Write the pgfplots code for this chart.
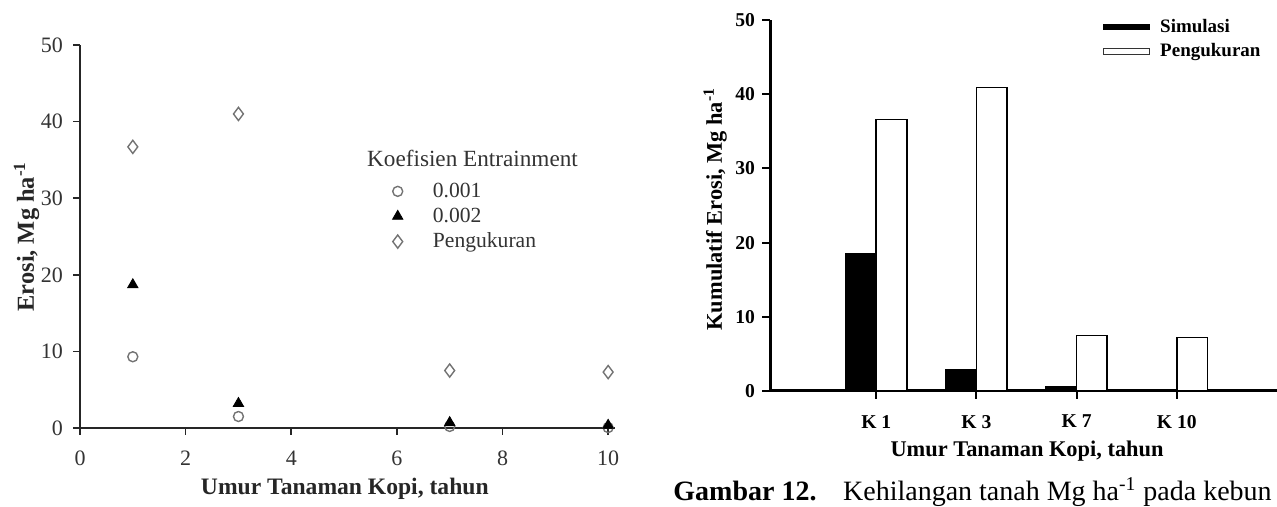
\documentclass[border=0pt]{standalone}
\usepackage{pgfplots}
\pgfplotsset{compat=1.18}
\usepackage{fontspec}
\setmainfont{Liberation Serif}
\begin{document}
\begin{tikzpicture}
\useasboundingbox (0,0) rectangle (638.5pt,253.5pt);
\clip (0,0) rectangle (638.5pt,253.5pt);
% ---------------- left scatter chart ----------------
\begin{axis}[
  at={(40pt,39.5pt)}, anchor=south west,
  scale only axis, width=267.5pt, height=191.5pt,
  xmin=0, xmax=10.13, ymin=0, ymax=50,
  axis x line*=bottom, axis y line*=left,
  axis line style={line width=1pt, black!85},
  xtick={0,2,...,10}, ytick={0,10,...,50},
  tick align=outside,
  major tick length=3.5pt,
  tick style={line width=0.8pt, black!85},
  /pgf/number format/assume math mode=true,
  ticklabel style={font=\fontsize{11}{13}\selectfont, text=black!80},
  xticklabel style={yshift=-4.5pt},
  yticklabel style={xshift=-1.5pt},
  clip=false,
  xlabel={\textbf{Umur Tanaman Kopi, tahun}},
  ylabel={\textbf{Erosi, Mg ha\textsuperscript{-1}}},
  label style={text=black!85},
  xlabel style={font=\fontsize{11.8}{13}\selectfont, at={(axis description cs:0.495,-0.16)}, anchor=center},
  ylabel style={font=\fontsize{12.2}{14}\selectfont, at={(axis description cs:-0.1,0.5)}, anchor=center},
  legend style={at={(axis cs:5.91,32.6)}, anchor=north west, draw=none, fill=none,
    font=\fontsize{10.8}{12}\selectfont, text=black!80, column sep=13pt, row sep=-0.2pt,
    inner sep=0pt},
  legend cell align=left,
]
\addplot[only marks, mark=o, mark size=2.5pt, mark options={draw=black!55, line width=0.7pt}]
  coordinates {(1,9.3) (3,1.5) (7,0.2) (10,0.05)};
\addlegendentry{0.001}
\addplot[only marks, mark=triangle*, mark size=3pt, mark options={fill=black, draw=black}]
  coordinates {(1,18.7) (3,3.2) (7,0.7) (10,0.35)};
\addlegendentry{0.002}
\addplot[only marks, mark=diamond, mark size=3.3pt, mark options={draw=black!55, line width=0.7pt}]
  coordinates {(1,36.7) (3,41.0) (7,7.5) (10,7.3)};
\addlegendentry{Pengukuran}
\node[anchor=west, font=\fontsize{11.6}{13}\selectfont, text=black!80, inner sep=0pt]
  at (axis cs:5.43,35.25) {Koefisien Entrainment};
\end{axis}
% ---------------- right bar chart ----------------
\begin{axis}[
  at={(385pt,58pt)}, anchor=south west,
  scale only axis, width=253.5pt, height=185.5pt,
  xmin=-0.06, xmax=5.0, ymin=0, ymax=50,
  axis x line*=bottom, axis y line*=left,
  axis line style={line width=1.5pt, black},
  xtick={1,2,3,4}, xticklabels={K 1,K 3,K 7,K 10},
  ytick={0,10,...,50},
  tick align=outside,
  major tick length=4pt,
  tick style={line width=1pt, black},
  /pgf/number format/assume math mode=true,
  ticklabel style={font=\fontsize{9.8}{11}\selectfont\bfseries},
  xticklabel style={yshift=-4.5pt},
  xlabel={\textbf{Umur Tanaman Kopi, tahun}},
  ylabel={\textbf{Kumulatif Erosi, Mg ha\textsuperscript{-1}}},
  label style={font=\fontsize{11.2}{13}\selectfont},
  xlabel style={at={(axis description cs:0.507,-0.162)}, anchor=center},
  ylabel style={at={(axis description cs:-0.108,0.49)}, anchor=center},
  ybar, bar width=15.3pt,
  legend style={at={(rel axis cs:0.656,1.014)}, anchor=north west, draw=none, fill=none,
    font=\fontsize{9.5}{11}\selectfont\bfseries, column sep=3pt, row sep=0pt, inner sep=0pt},
  legend cell align=left,
]
\addplot[bar shift=-7.65pt, fill=black, draw=black, line width=0.6pt,
  legend image code/.code={\fill[black] (0pt,-1.1pt) rectangle (23pt,1.1pt);}]
  coordinates {(1,18.5) (2,2.9) (3,0.55) (4,0)};
\addlegendentry{Simulasi}
\addplot[bar shift=7.65pt, fill=white, draw=black, line width=0.8pt,
  legend image code/.code={\path[draw=black!80, fill=white, line width=0.5pt] (0pt,-1.6pt) rectangle (23pt,1.6pt);}]
  coordinates {(1,36.6) (2,40.9) (3,7.5) (4,7.2)};
\addlegendentry{Pengukuran}
\end{axis}
% ---------------- caption ----------------
\node[anchor=base west, inner sep=0pt, font=\fontsize{14}{16}\selectfont]
  at (336.5pt,3pt) {\textbf{Gambar 12.}\hspace{0.95em}Kehilangan tanah Mg ha\textsuperscript{-1} pada kebun};
\end{tikzpicture}
\end{document}
